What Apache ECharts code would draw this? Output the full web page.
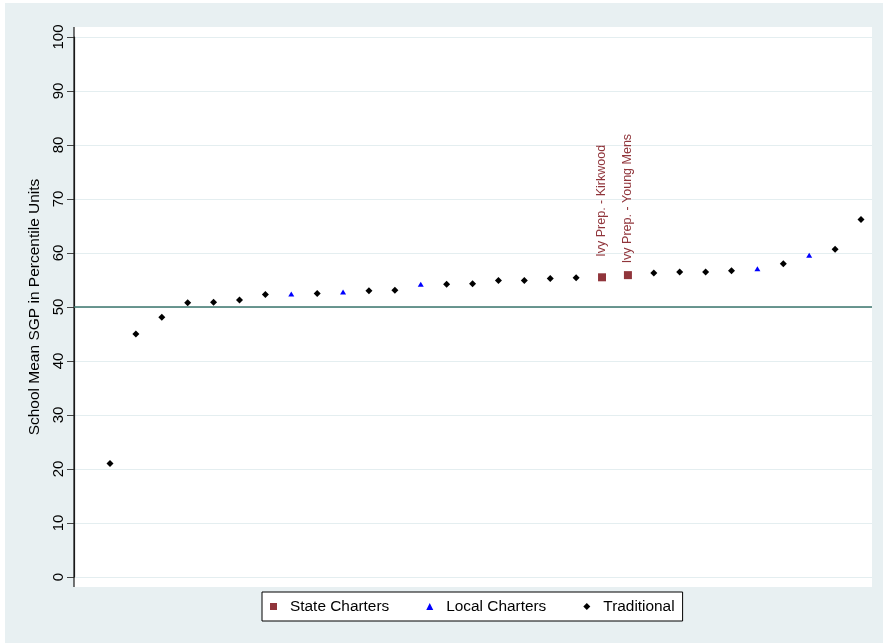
<!DOCTYPE html>
<html>
<head>
<meta charset="utf-8">
<script src="https://cdn.jsdelivr.net/npm/echarts@6/dist/echarts.min.js"></script>
<style>
  html, body { margin: 0; padding: 0; background: #ffffff; }
  #chart { width: 883px; height: 644px; }
</style>
</head>
<body>
<div id="chart"></div>
<script>
// ---- Data ----
const yTitle = 'School Mean SGP in Percentile Units';
const yTicks = [0, 10, 20, 30, 40, 50, 60, 70, 80, 90, 100];
const referenceValue = 50;

// rank position of each school (x) and its mean SGP (y)
const stateRank = [20, 21];
const stateValues = [55.5, 55.9];
const stateNames = ['Ivy Prep. - Kirkwood', 'Ivy Prep. - Young Mens'];

const localRank = [8, 10, 13, 26, 28];
const localValues = [52.4, 52.8, 54.2, 57.1, 59.6];

const tradRank = [1, 2, 3, 4, 5, 6, 7, 9, 11, 12, 14, 15, 16, 17, 18, 19, 22, 23, 24, 25, 27, 29, 30];
const tradValues = [21.0, 45.0, 48.1, 50.8, 50.9, 51.3, 52.3, 52.5, 53.0, 53.1, 54.2, 54.3, 54.9, 54.9, 55.3, 55.4, 56.3, 56.5, 56.5, 56.7, 58.0, 60.7, 66.2];

const legendNames = ['State Charters', 'Local Charters', 'Traditional'];

// ---- Styles ----
const FONT = "'Liberation Sans', Arial, sans-serif";
const MAROON = '#90353b';
const BLUE = '#0000ff';
const BLACK = '#000000';
const OUTER_BG = '#e8f0f2';
const GRID_COLOR = '#e4eef0';

const chart = echarts.init(document.getElementById('chart'), null, { renderer: 'canvas' });

const stateData = stateRank.map((r, i) => ({ value: [r, stateValues[i]], name: stateNames[i] }));
const localData = localRank.map((r, i) => [r, localValues[i]]);
const tradData = tradRank.map((r, i) => [r, tradValues[i]]);

const option = {
  animation: false,
  backgroundColor: '#ffffff',
  textStyle: { fontFamily: FONT },
  graphic: [
    { type: 'rect', z: -10, silent: true, shape: { x: 5, y: 3, width: 878, height: 640 }, style: { fill: OUTER_BG } },
    { type: 'rect', z: -9, silent: true, shape: { x: 74, y: 27, width: 798, height: 560 }, style: { fill: '#ffffff' } },
    { type: 'line', z: 5, silent: true, shape: { x1: 74, y1: 27, x2: 74, y2: 587 }, style: { stroke: '#1a1a1a', lineWidth: 1.2 } }
  ],
  grid: {
    left: 74, right: 11, top: 37, bottom: 67,
    outerBoundsMode: 'none',
    containLabel: false
  },
  xAxis: {
    type: 'value',
    min: -0.39,
    max: 30.425,
    show: false,
    axisLine: { onZero: false },
    splitLine: { show: false }
  },
  yAxis: {
    type: 'value',
    position: 'left',
    min: 0,
    max: 100,
    interval: 10,
    name: yTitle,
    nameLocation: 'middle',
    nameRotate: 90,
    nameGap: 26,
    nameTextStyle: { fontSize: 15.5, color: '#000', fontFamily: FONT },
    axisLine: { show: true, onZero: false, lineStyle: { color: '#1a1a1a', width: 1.2 } },
    axisTick: { show: true, inside: false, length: 7, lineStyle: { color: '#444', width: 1 } },
    axisLabel: {
      rotate: 90, fontSize: 15, color: '#000', margin: 8, fontFamily: FONT,
      formatter: v => (yTicks.indexOf(v) >= 0 ? String(v) : '')
    },
    splitLine: { show: true, lineStyle: { color: GRID_COLOR, width: 1 } }
  },
  legend: {
    left: 262,
    top: 592,
    orient: 'horizontal',
    data: [
      { name: legendNames[0], icon: 'rect' },
      { name: legendNames[1], icon: 'triangle' },
      { name: legendNames[2], icon: 'diamond' }
    ],
    itemWidth: 7,
    itemHeight: 7,
    itemGap: 37,
    padding: [7, 8, 7, 8],
    backgroundColor: '#ffffff',
    borderColor: '#000000',
    borderWidth: 1,
    borderRadius: 0,
    textStyle: { fontSize: 15.4, color: '#000', fontFamily: FONT, padding: [0, 0, 0, 8] }
  },
  series: [
    {
      name: legendNames[0],
      type: 'scatter',
      symbol: 'rect',
      symbolSize: 8,
      itemStyle: { color: MAROON, opacity: 1 },
      data: stateData,
      z: 4,
      label: {
        show: true,
        formatter: p => p.name,
        position: 'top',
        distance: 76,
        rotate: 90,
        align: 'center',
        verticalAlign: 'middle',
        offset: [-3.5, 0],
        fontSize: 12.5,
        color: MAROON,
        fontFamily: FONT
      }
    },
    {
      name: legendNames[1],
      type: 'scatter',
      symbol: 'triangle',
      symbolSize: [6, 5],
      itemStyle: { color: BLUE, opacity: 1 },
      data: localData,
      z: 4
    },
    {
      name: legendNames[2],
      type: 'scatter',
      symbol: 'diamond',
      symbolSize: [7, 7],
      itemStyle: { color: BLACK, opacity: 1 },
      data: tradData,
      z: 4,
      markLine: {
        silent: true,
        symbol: ['none', 'none'],
        label: { show: false },
        lineStyle: { color: '#3b756c', width: 1.6, type: 'solid' },
        data: [{ yAxis: referenceValue }]
      }
    }
  ]
};

chart.setOption(option);
</script>
</body>
</html>
